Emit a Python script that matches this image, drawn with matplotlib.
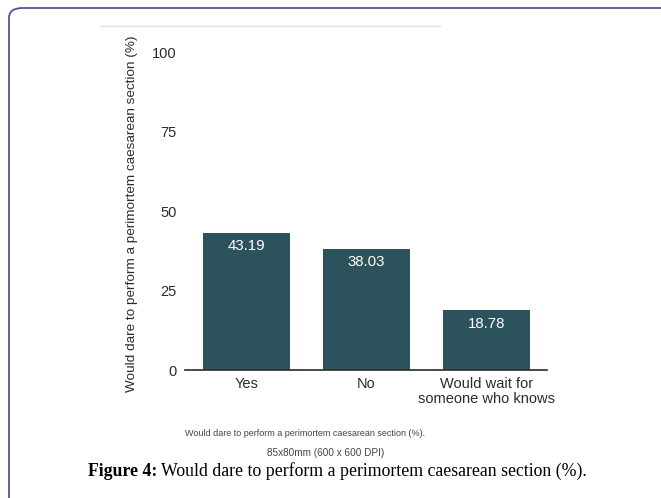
import matplotlib.pyplot as plt
from matplotlib.patches import FancyBboxPatch
from matplotlib.lines import Line2D

plt.rcParams['font.family'] = 'Liberation Sans'

categories = ['Yes', 'No', 'Would wait for\nsomeone who knows']
values = [43.19, 38.03, 18.78]
yticks = [0, 25, 50, 75, 100]

bar_color = '#2c525b'
text_color = '#2b2b2b'

fig = plt.figure(figsize=(6.61, 4.98), dpi=100)
fig.patch.set_facecolor('white')

# rounded frame around the figure panel
frame = FancyBboxPatch((9 / 661, -0.2), 1.2, (498 - 8) / 498 + 0.2,
                       boxstyle='round,pad=0,rounding_size=0.02',
                       transform=fig.transFigure, fill=False,
                       edgecolor='#5a4e9b', linewidth=1.3, zorder=0)
fig.patches.append(frame)

# thin grey rule at the top of the embedded chart image
fig.add_artist(Line2D([100 / 661, 440 / 661], [1 - 26 / 498, 1 - 26 / 498],
                      color='#e2e2e2', linewidth=1, transform=fig.transFigure))

ax = fig.add_axes([185 / 661, 128 / 498, 362 / 661, 318 / 498])
x = range(len(categories))
bars = ax.bar(x, values, width=0.725, color=bar_color)

for b, v in zip(bars, values):
    ax.text(b.get_x() + b.get_width() / 2, v - 4.2, '%.2f' % v,
            ha='center', va='center', color='white', fontsize=10.8)

ax.set_xlim(-0.51, 2.5)
ax.set_ylim(0, 100)
ax.set_yticks(yticks)
ax.set_xticks(list(x))
ax.set_xticklabels(categories, fontsize=10.5, color=text_color, linespacing=1.1)
ax.tick_params(axis='y', length=0, pad=6, labelsize=10.5, labelcolor=text_color)
ax.tick_params(axis='x', length=0, pad=5)

for s in ['top', 'right', 'left']:
    ax.spines[s].set_visible(False)
ax.spines['bottom'].set_color(text_color)
ax.spines['bottom'].set_linewidth(1.2)

ax.set_ylabel('Would dare to perform a perimortem caesarean section (%)',
              fontsize=9.7, color=text_color)
ax.yaxis.set_label_coords(-0.13, 0.49)

fig.text(305 / 661, 1 - 434 / 498,
         'Would dare to perform a perimortem caesarean section (%).',
         ha='center', va='center', fontsize=6.5, color='#444444')
fig.text(326 / 661, 1 - 453 / 498, '85x80mm (600 x 600 DPI)',
         ha='center', va='center', fontsize=7.2, color='#444444')

# caption: bold label followed by plain text
cap_bold = fig.text(88 / 661, 1 - 471 / 498, 'Figure 4:', ha='left', va='center',
                    fontsize=12.8, family='Liberation Serif', weight='bold')
fig.canvas.draw()
bb = cap_bold.get_window_extent()
fig.text((bb.x1 + 4) / 661, 1 - 471 / 498,
         'Would dare to perform a perimortem caesarean section (%).',
         ha='left', va='center', fontsize=12.8, family='Liberation Serif')

fig.savefig('out.png', dpi=100)
